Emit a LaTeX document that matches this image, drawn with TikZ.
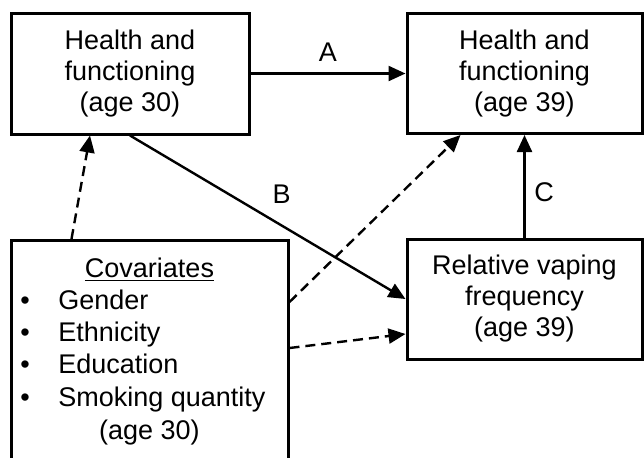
\documentclass[tikz,border=0pt]{standalone}
\usepackage{fontspec}
\setmainfont{Liberation Sans}
\usetikzlibrary{arrows.meta}
\tikzstyle{stage}=[rectangle,draw=black,line width=1.5pt,align=center,inner sep=0pt]
\tikzstyle{path}=[-{Triangle[length=8.5pt,width=7.5pt]},line width=1.2pt]
\tikzstyle{adjust}=[path,dash pattern=on 5pt off 3pt]

\begin{document}
\begin{tikzpicture}[x=0.5pt,y=-0.5pt,font=\fontsize{13.5pt}{15.5pt}\selectfont]
    \useasboundingbox (0,0) rectangle (644,457);
    \node[stage,minimum width=119pt,minimum height=60.5pt] (hf30) at (130,73.5) {Health and\\functioning\\(age 30)};
    \node[stage,minimum width=117.5pt,minimum height=60pt] (hf39) at (524.5,73.5) {Health and\\functioning\\(age 39)};
    \node[stage,minimum width=117.5pt,minimum height=60pt] (vape) at (524.5,299) {Relative vaping\\frequency\\(age 39)};
    \node[stage,anchor=north,minimum width=138.5pt,minimum height=120pt] (covariates) at (149.5,239) {};
    \node[anchor=base] (cov title) at (149.5,277) {\underline{Covariates}};
    \foreach \item [count=\k] in {Gender,Ethnicity,Education,Smoking quantity} {
        \node[anchor=base,inner sep=0pt] (bullet \k) at (25,277+32.3*\k) {\textbullet};
        \node[anchor=base west,inner sep=0pt] (item \k) at (58,277+32.3*\k) {\item};
    };
    \node[anchor=base] (cov age) at (149.5,439) {(age 30)};
    \draw[path] (hf30) -- (hf39) node[midway,above=2pt] (A) {A};
    \draw[path] (hf30.south) -- (vape.west) node[pos=0.5,xshift=7pt,yshift=11.5pt] (B) {B};
    \draw[path] (vape.north) -- (hf39.south) node[midway,right=1pt,yshift=-3pt] (C) {C};
    \draw[adjust] ([xshift=31pt]covariates.north west) -- ([xshift=-20pt]hf30.south);
    \draw[adjust] ([yshift=-31.5pt]covariates.north east) -- ([xshift=27.5pt]hf39.south west);
    \draw[adjust] ([yshift=-54.5pt]covariates.north east) -- ([yshift=-17.5pt]vape.west);
\end{tikzpicture}
\end{document}
